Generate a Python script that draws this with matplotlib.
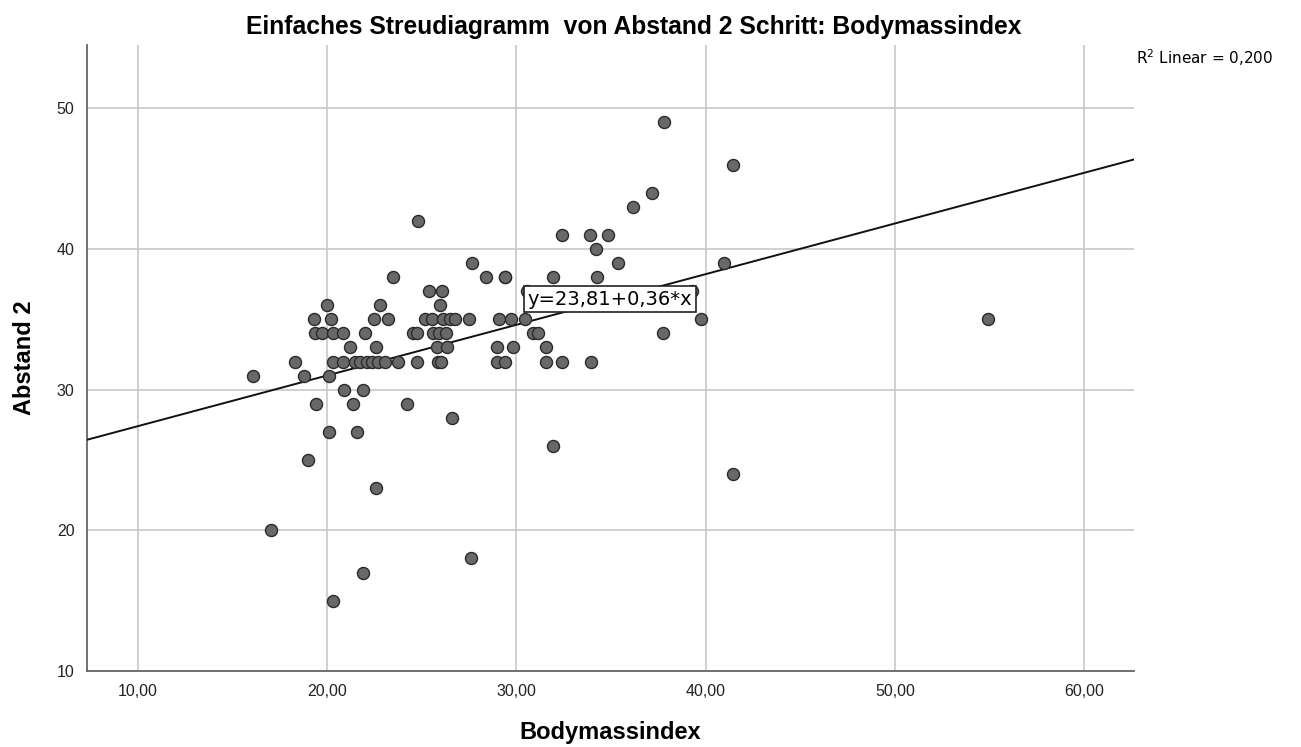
import numpy as np
import matplotlib
matplotlib.use("Agg")
import matplotlib.pyplot as plt

plt.rcParams["font.family"] = ["Liberation Sans", "DejaVu Sans"]

# Punkte: Bodymassindex (x) und Abstand 2 (y)
bmi_49 = [37.79]
bmi_46 = [41.43]
bmi_44 = [37.15]
bmi_43 = [36.15]
bmi_42 = [24.79]
bmi_41 = [32.40, 33.88, 34.83]
bmi_40 = [34.19]
bmi_39 = [27.64, 35.36, 40.96]
bmi_38 = [23.47, 28.38, 29.39, 29.39, 31.92, 34.25]
bmi_37 = [25.37, 26.06, 30.55, 39.27]
bmi_36 = [19.98, 22.78, 25.95]
bmi_35 = [19.30, 20.20, 22.47, 23.21, 25.16, 25.53, 26.11, 26.48, 26.75,
          27.49, 29.07, 29.70, 30.44, 39.74, 54.90]
bmi_34 = [19.35, 19.72, 20.30, 20.83, 21.99, 24.53, 24.74, 25.58, 25.90,
          26.27, 30.87, 31.13, 37.73]
bmi_33 = [21.20, 22.57, 25.79, 26.32, 28.96, 29.81, 31.55]
bmi_32 = [18.29, 20.30, 20.83, 21.46, 21.73, 22.10, 22.36, 22.68, 23.05,
          23.73, 24.74, 25.85, 26.01, 28.96, 29.39, 31.55, 32.40, 33.93]
bmi_31 = [16.07, 18.77, 20.09]
bmi_30 = [20.88, 21.89]
bmi_29 = [19.40, 21.36, 24.21]
bmi_28 = [26.59]
bmi_27 = [20.09, 21.57]
bmi_26 = [31.92]
bmi_25 = [18.98]
bmi_24 = [41.43]
bmi_23 = [22.57]
bmi_20 = [17.03]
bmi_18 = [27.59]
bmi_17 = [21.89]
bmi_15 = [20.30]

gruppen = {
    49: bmi_49, 46: bmi_46, 44: bmi_44, 43: bmi_43, 42: bmi_42, 41: bmi_41,
    40: bmi_40, 39: bmi_39, 38: bmi_38, 37: bmi_37, 36: bmi_36, 35: bmi_35,
    34: bmi_34, 33: bmi_33, 32: bmi_32, 31: bmi_31, 30: bmi_30, 29: bmi_29,
    28: bmi_28, 27: bmi_27, 26: bmi_26, 25: bmi_25, 24: bmi_24, 23: bmi_23,
    20: bmi_20, 18: bmi_18, 17: bmi_17, 15: bmi_15,
}

# Regressionsgerade (aus der Beschriftung)
achsenabschnitt = 23.81
steigung = 0.36
r2 = "0,200"

x_ticks = [10, 20, 30, 40, 50, 60]
y_ticks = [10, 20, 30, 40, 50]


def komma(v, n=2):
    return f"{v:.{n}f}".replace(".", ",")


x = np.concatenate([np.array(v, dtype=float) for v in gruppen.values()])
y = np.concatenate([np.full(len(v), k, dtype=float) for k, v in gruppen.items()])

fig = plt.figure(figsize=(13.01, 7.47), dpi=100)
ax = fig.add_axes([0.0669, 0.1017, 0.8047, 0.8381])

ax.set_xlim(7.3, 62.64)
ax.set_ylim(10, 54.5)
ax.set_xticks(x_ticks)
ax.set_yticks(y_ticks)
ax.set_xticklabels([komma(t) for t in x_ticks])
ax.set_yticklabels([str(t) for t in y_ticks])
ax.tick_params(length=0, labelsize=11.5, colors="#222222", pad=9)
ax.grid(True, color="#c8c8c8", linewidth=1.2)
ax.set_axisbelow(True)
for s in ["top", "right"]:
    ax.spines[s].set_visible(False)
for s in ["left", "bottom"]:
    ax.spines[s].set_color("#666666")
    ax.spines[s].set_linewidth(1.3)

xl = np.array(ax.get_xlim())
ax.plot(xl, achsenabschnitt + steigung * xl, color="#111111", linewidth=1.4, zorder=3)

ax.scatter(x, y, s=75, facecolor="#686868", edgecolor="#2a2a2a",
           linewidth=1.0, zorder=4)

ax.text(34.93, 36.44, f"y={komma(achsenabschnitt)}+{komma(steigung)}*x",
        ha="center", va="center", fontsize=14, family=["DejaVu Sans"], zorder=5,
        bbox=dict(boxstyle="square,pad=0.2", facecolor="white", edgecolor="#222222", linewidth=1.2))

ax.set_xlabel("Bodymassindex", fontsize=17, fontweight="bold", labelpad=16)
ax.set_ylabel("Abstand 2", fontsize=17, fontweight="bold", labelpad=15)

fig.text(634 / 1301, 1 - 27 / 747, "Einfaches Streudiagramm  von Abstand 2 Schritt: Bodymassindex",
         ha="center", va="center", fontsize=17.7, fontweight="bold")
fig.text(1136 / 1301, 1 - 58 / 747, "R$^2$ Linear = " + r2, ha="left", va="center",
         fontsize=11, family=["DejaVu Sans"])

fig.savefig("out.png", dpi=100)
